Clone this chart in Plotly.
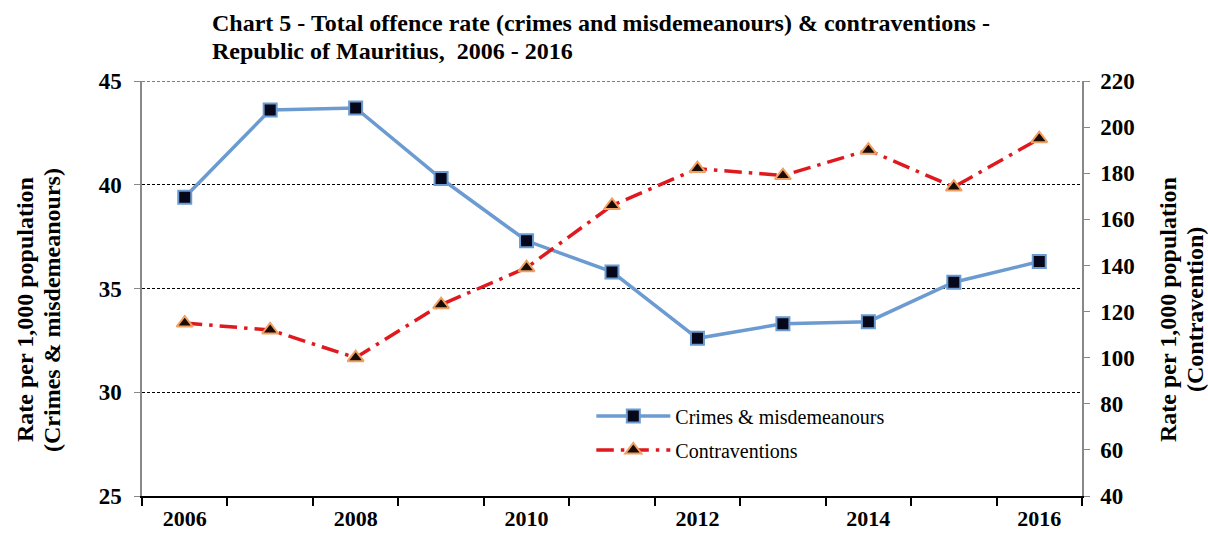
import plotly.graph_objects as go

# Offence rates per 1,000 population, Republic of Mauritius
years = [2006, 2007, 2008, 2009, 2010, 2011, 2012, 2013, 2014, 2015, 2016]
crimes_misdemeanours = [39.4, 43.6, 43.7, 40.3, 37.3, 35.8, 32.6, 33.3, 33.4, 35.3, 36.3]
contraventions = [115, 112, 100, 123, 139, 166, 182, 179, 190, 174, 195]

left_ticks = [25, 30, 35, 40, 45]
right_ticks = list(range(40, 221, 20))
year_labels = [2006, 2008, 2010, 2012, 2014, 2016]

SERIF = "Liberation Serif"
BLUE = "#6b9bd0"
RED = "#e0191e"

fig = go.Figure()

fig.add_trace(go.Scatter(
    x=years, y=crimes_misdemeanours, name="Crimes & misdemeanours",
    mode="lines+markers", legendgroup="a",
    line=dict(color=BLUE, width=3.5),
    marker=dict(symbol="square", size=13, color="#05081a",
                line=dict(color=BLUE, width=2)),
))

fig.add_trace(go.Scatter(
    x=years, y=contraventions, name="Contraventions",
    mode="lines+markers", yaxis="y2", legendgroup="b",
    line=dict(color=RED, width=3.5, dash="longdashdot"),
    marker=dict(symbol="triangle-up", size=14, color="#1a0d05",
                line=dict(color="#f0a060", width=2)),
))

boundaries = [y - 0.5 for y in years] + [years[-1] + 0.5]

tick_font = dict(family=SERIF, size=23, color="black", weight="bold")

fig.update_layout(
    width=1208, height=533,
    margin=dict(l=142, r=126, t=81, b=37),
    paper_bgcolor="white", plot_bgcolor="white",
    font=dict(family=SERIF, color="black"),
    showlegend=True,
    legend=dict(
        x=0.478, y=0.24, xanchor="left", yanchor="top",
        font=dict(family=SERIF, size=20, color="black"),
        bgcolor="rgba(0,0,0,0)", traceorder="grouped", tracegroupgap=5,
        itemwidth=74,
    ),
    xaxis=dict(
        range=[years[0] - 0.5, years[-1] + 0.5], automargin=False,
        tickmode="array", tickvals=year_labels,
        ticktext=[str(v) for v in year_labels],
        ticks="", showgrid=False, zeroline=False,
        showline=True, linecolor="black", linewidth=2,
        tickfont=dict(family=SERIF, size=22, color="black", weight="bold"),
        ticklabelstandoff=2,
        minor=dict(tickmode="array", tickvals=boundaries, ticks="outside",
                   ticklen=8, tickwidth=1.5, tickcolor="black", showgrid=False),
    ),
    yaxis=dict(
        range=[25, 45], automargin=False,
        tickmode="array", tickvals=left_ticks,
        ticks="outside", ticklen=6, tickcolor="#888888",
        showline=True, linecolor="#888888", linewidth=1.5,
        showgrid=True, gridcolor="black", griddash="3px,2px", gridwidth=1,
        zeroline=False,
        tickfont=tick_font, ticklabelstandoff=8,
    ),
    yaxis2=dict(
        range=[40, 220], automargin=False,
        tickmode="array", tickvals=right_ticks,
        overlaying="y", side="right",
        ticks="outside", ticklen=6, tickcolor="#888888",
        showline=True, linecolor="#888888", linewidth=1.5,
        showgrid=False, zeroline=False,
        tickfont=tick_font, ticklabelstandoff=6,
    ),
)

# Top gridline at the upper edge of the left axis range
fig.add_shape(type="line", xref="paper", yref="y", x0=0, x1=1,
              y0=left_ticks[-1], y1=left_ticks[-1],
              line=dict(color="black", width=1, dash="3px,2px"), layer="below")

title_font = dict(family=SERIF, size=24, color="black", weight="bold")
axis_title_font = dict(family=SERIF, size=24, color="black", weight="bold")

fig.add_annotation(
    text="Chart 5 - Total offence rate (crimes and misdemeanours) & contraventions -",
    xref="paper", yref="paper", x=(210 - 142) / 940, y=1 + (81 - 23) / 415,
    xanchor="left", yanchor="middle", showarrow=False, font=title_font,
)
fig.add_annotation(
    text="Republic of Mauritius,  2006 - 2016",
    xref="paper", yref="paper", x=(210 - 142) / 940, y=1 + (81 - 51) / 415,
    xanchor="left", yanchor="middle", showarrow=False, font=title_font,
)

# Axis titles, two lines each, rotated
for xpix, txt in [(25, "Rate per 1,000 population"), (52, "(Crimes & misdemeanours)"),
                  (1168, "Rate per 1,000 population"), (1195, "(Contravention)")]:
    fig.add_annotation(
        text=txt, xref="paper", yref="paper",
        x=(xpix - 142) / 940, y=(496 - 310) / 415,
        xanchor="center", yanchor="middle", textangle=-90,
        showarrow=False, font=axis_title_font,
    )

fig.write_html("out.html")
